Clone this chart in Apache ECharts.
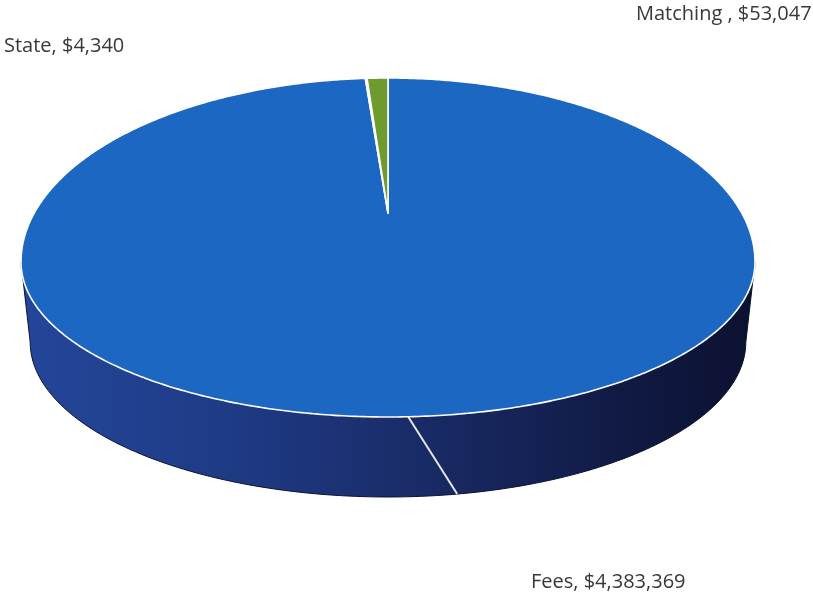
<!DOCTYPE html>
<html><head><meta charset="utf-8">
<script src="https://cdn.jsdelivr.net/npm/echarts@6/dist/echarts.min.js"></script>
<style>html,body{margin:0;padding:0;background:#fff}#chart{width:813px;height:596px}</style>
</head><body><div id="chart"></div>
<script>
// ---- data ----
const categories = ['Fees', 'State', 'Matching '];
const values = [4383369, 4340, 53047];
const sliceColors = ['#1b67c2', '#eef3f8', '#6f9a2e'];

// ---- layout (3D-looking pie projection) ----
const CX = 388, CY = 262, RX = 367, RY_FAR = 184, RY_NEAR = 155, K = 0.266;
const DEPTH = 80, BOTTOM_SCALE = 0.975;
const SEAM_TOP = 177.6, SEAM_BOTTOM = 171.5;
const labelAnchors = [
  { x: 531, y: 582, align: 'left' },
  { x: 4, y: 46, align: 'left' },
  { x: 636, y: 14, align: 'left' }
];

const total = values.reduce((a, b) => a + b, 0);
const starts = [];
{ let acc = 0; values.forEach(v => { starts.push(acc / total * 360); acc += v; }); }

function rim(deg) {
  const t = deg * Math.PI / 180;
  const s = Math.sin(t), c = Math.cos(t);
  const d = 1 + K * c;
  const u = s * Math.sqrt(1 - K * K) / d;
  const v = (c + K) / d;
  return [CX + RX * u, CY - (v > 0 ? RY_FAR : RY_NEAR) * v];
}
function rimBottom(deg) {
  const p = rim(deg);
  return [CX + (p[0] - CX) * BOTTOM_SCALE, p[1] + DEPTH];
}
function sample(a, b, step) {
  const out = [];
  const n = Math.max(1, Math.ceil(Math.abs(b - a) / step));
  for (let i = 0; i <= n; i++) out.push(a + (b - a) * i / n);
  return out;
}
const V1 = Math.acos(-K) * 180 / Math.PI, V2 = 360 - V1;

function renderItem(params, api) {
  const i = params.dataIndex;
  const a0 = starts[i];
  const a1 = a0 + api.value(0) / total * 360;
  const children = [];
  const apex = [CX, CY - RY_FAR * K];
  const topPts = [apex].concat(sample(a0, a1, 0.5).map(rim));
  children.push({
    type: 'polygon', z2: 10,
    shape: { points: topPts },
    style: { fill: sliceColors[i], stroke: '#ffffff', lineWidth: 1.6, lineJoin: 'round' }
  });
  const s0 = Math.max(a0, V1), s1 = Math.min(a1, V2);
  if (s1 > s0) {
    const angs = sample(s0, s1, 1);
    const pts = angs.map(rim).concat(angs.slice().reverse().map(rimBottom));
    children.push({
      type: 'polygon', z2: 1,
      shape: { points: pts },
      style: {
        fill: new echarts.graphic.LinearGradient(0, 0, 1, 0, [
          { offset: 0, color: '#24469a' },
          { offset: 0.3, color: '#1e3a84' },
          { offset: 0.55, color: '#192b66' },
          { offset: 0.8, color: '#111b46' },
          { offset: 1, color: '#0b1130' }
        ]),
        stroke: '#0c1230', lineWidth: 1
      }
    });
    if (SEAM_TOP > a0 && SEAM_TOP < a1) {
      const p = rim(SEAM_TOP), q = rimBottom(SEAM_BOTTOM);
      children.push({
        type: 'line', z2: 5,
        shape: { x1: p[0], y1: p[1], x2: q[0], y2: q[1] },
        style: { stroke: '#e4e8ee', lineWidth: 2 }
      });
    }
  }
  const la = labelAnchors[i];
  children.push({
    type: 'text', z2: 20,
    style: {
      text: categories[i] + ', $' + values[i].toLocaleString('en-US'),
      x: la.x, y: la.y, align: la.align, verticalAlign: 'middle',
      fill: '#383838', fontSize: 20, fontFamily: '"Open Sans", Lato, sans-serif'
    }
  });
  return { type: 'group', children };
}

const chart = echarts.init(document.getElementById('chart'), null, { renderer: 'canvas' });
chart.setOption({
  backgroundColor: '#ffffff',
  animation: false,
  series: [{
    type: 'custom',
    coordinateSystem: 'none',
    renderItem: renderItem,
    data: values.map((v, i) => ({ name: categories[i], value: v }))
  }]
});
</script>
</body></html>
